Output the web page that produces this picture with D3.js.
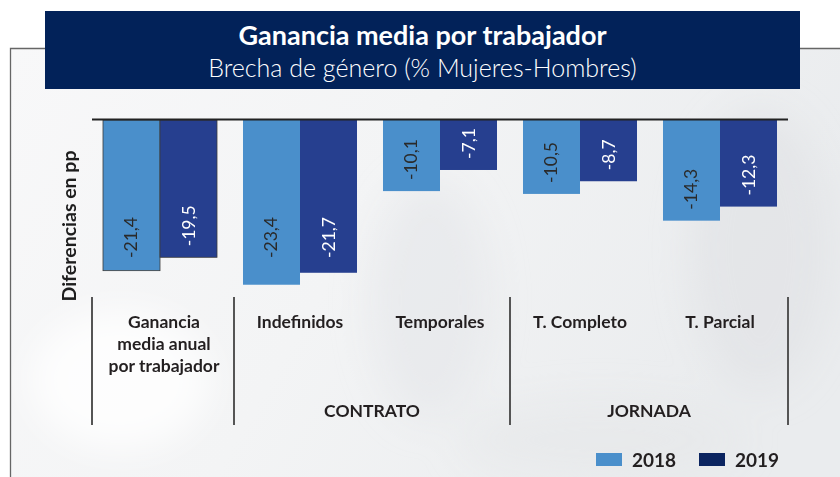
<!DOCTYPE html>
<html>
<head>
<meta charset="utf-8">
<style>
  body { margin: 0; background: #fff; }
  svg { display: block; }
  text { font-family: Lato, "Open Sans", sans-serif; }
</style>
</head>
<body>
<svg class="chart"></svg>

<script src="https://cdn.jsdelivr.net/npm/d3@7"></script>
<script>
// datos: brecha de género en ganancia media (% mujeres-hombres)
const categories = ["Ganancia media anual por trabajador", "Indefinidos", "Temporales", "T. Completo", "T. Parcial"];
const catLines = [["Ganancia", "media anual", "por trabajador"], ["Indefinidos"], ["Temporales"], ["T. Completo"], ["T. Parcial"]];
const years = ["2018", "2019"];
const values2018 = [-21.4, -23.4, -10.1, -10.5, -14.3];
const values2019 = [-19.5, -21.7, -7.1, -8.7, -12.3];
const groups = [
  {name: "", from: 0, to: 0},
  {name: "CONTRATO", from: 1, to: 2},
  {name: "JORNADA", from: 3, to: 4}
];
const yDomain = [-25, 0];

const width = 840, height = 477;
const margin = {top: 120, left: 90, right: 50, bottom: 181};

const color = {"2018": "#4a8fcb", "2019": "#263f8f"};
const legendColor = {"2018": "#4a8fcb", "2019": "#0b2460"};

const data = categories.map((c, i) => ({
  cat: c, i,
  vals: [{year: "2018", value: values2018[i]}, {year: "2019", value: values2019[i]}]
}));

const fmt = v => d3.format(".1f")(v).replace(".", ",").replace("\u2212", "-");

const x0 = d3.scaleBand()
    .domain(categories)
    .range([margin.left, width - margin.right])
    .paddingInner(0);

const x1 = d3.scaleBand()
    .domain(years)
    .range([0, x0.bandwidth()])
    .paddingInner(0)
    .paddingOuter(0.228);

const y = d3.scaleLinear()
    .domain(yDomain)
    .range([height - margin.bottom, margin.top]);

const svg = d3.select("svg")
    .attr("width", width)
    .attr("height", height)
    .attr("viewBox", [0, 0, width, height]);

// fondo (foto difuminada)
const defs = svg.append("defs");
const bg = defs.append("linearGradient").attr("id", "bg").attr("x1", 0).attr("x2", 1).attr("y1", 0).attr("y2", 0.3);
bg.append("stop").attr("offset", 0).attr("stop-color", "#f8f8f9");
bg.append("stop").attr("offset", 0.5).attr("stop-color", "#f3f4f5");
bg.append("stop").attr("offset", 1).attr("stop-color", "#eaecee");
const blur = defs.append("filter").attr("id", "blur").attr("x", -0.5).attr("y", -0.5).attr("width", 2).attr("height", 2);
blur.append("feGaussianBlur").attr("stdDeviation", 18);

svg.append("rect")
    .attr("x", 10).attr("y", 48)
    .attr("width", width - 10).attr("height", height - 48)
    .attr("fill", "url(#bg)");

const blobs = svg.append("g").attr("filter", "url(#blur)");
blobs.append("ellipse").attr("cx", 120).attr("cy", 380).attr("rx", 90).attr("ry", 70).attr("fill", "#ffffff").attr("opacity", 0.8);
blobs.append("ellipse").attr("cx", 430).attr("cy", 300).attr("rx", 60).attr("ry", 120).attr("fill", "#e4e6e9").attr("opacity", 0.6);
blobs.append("ellipse").attr("cx", 760).attr("cy", 250).attr("rx", 70).attr("ry", 140).attr("fill", "#e1e3e6").attr("opacity", 0.7);
blobs.append("ellipse").attr("cx", 600).attr("cy", 440).attr("rx", 140).attr("ry", 40).attr("fill", "#e6e8ea").attr("opacity", 0.6);

// marco
svg.append("path")
    .attr("d", `M10.5,${height} V48.5 H45 M800,48.5 H${width}`)
    .attr("fill", "none")
    .attr("stroke", "#666")
    .attr("stroke-width", 1.3);

// caja del título
svg.append("rect")
    .attr("x", 45).attr("y", 11)
    .attr("width", 755).attr("height", 78)
    .attr("fill", "#022259");

svg.append("text")
    .attr("x", 422.5).attr("y", 45)
    .attr("text-anchor", "middle")
    .attr("fill", "#fff")
    .attr("font-weight", 700)
    .attr("font-size", 27)
    .text("Ganancia media por trabajador");

svg.append("text")
    .attr("x", 422.5).attr("y", 77)
    .attr("text-anchor", "middle")
    .attr("fill", "#fff")
    .attr("font-weight", 300)
    .attr("font-size", 25)
    .text("Brecha de género (% Mujeres-Hombres)");

// barras
const g = svg.append("g")
  .selectAll("g")
  .data(data)
  .join("g")
    .attr("transform", d => `translate(${x0(d.cat)},0)`);

g.selectAll("rect")
  .data(d => d.vals.map(v => ({...v, i: d.i})))
  .join("rect")
    .attr("x", d => x1(d.year))
    .attr("y", y(0))
    .attr("width", x1.bandwidth())
    .attr("height", d => y(d.value) - y(0))
    .attr("fill", d => color[d.year])
    .attr("stroke", d => d.i === 0 ? "#3c3c3c" : "none")
    .attr("stroke-width", 0.8);

g.selectAll("text")
  .data(d => d.vals)
  .join("text")
    .attr("transform", d => `translate(${x1(d.year) + x1.bandwidth() / 2 + 6},${Math.min(y(d.value) - 11, y(-19.6))}) rotate(-90)`)
    .attr("fill", d => d.year === "2018" ? "#2a2a2a" : "#fff")
    .attr("font-size", 17.5)
    .attr("font-weight", 400)
    .text(d => fmt(d.value));

// línea del cero
svg.append("line")
    .attr("x1", x0.range()[0] + 2).attr("x2", x0.range()[1] - 2)
    .attr("y1", y(0) - 0.5).attr("y2", y(0) - 0.5)
    .attr("stroke", "#222")
    .attr("stroke-width", 2.2);

// eje vertical
svg.append("text")
    .attr("transform", `translate(76,226) rotate(-90)`)
    .attr("text-anchor", "middle")
    .attr("fill", "#1e1e1e")
    .attr("font-weight", 700)
    .attr("font-size", 19.5)
    .text("Diferencias en pp");

// etiquetas de categoría
const catLabel = svg.append("g")
  .selectAll("text")
  .data(data)
  .join("text")
    .attr("text-anchor", "middle")
    .attr("fill", "#231f20")
    .attr("font-weight", 700)
    .attr("font-size", 17.5)
    .attr("transform", d => `translate(${x0(d.cat) + x0.bandwidth() / 2 + (d.i === 0 ? 4 : 0)},328)`);

catLabel.selectAll("tspan")
  .data(d => catLines[d.i])
  .join("tspan")
    .attr("x", 0)
    .attr("dy", (d, i) => i === 0 ? 0 : 22)
    .text(d => d);

// separadores de grupos
const sepX = [x0(categories[0]) + 2, x0(categories[1]) + 4, x0(categories[3]), x0(categories[4]) + x0.bandwidth() - 2];
svg.append("g")
  .selectAll("line")
  .data(sepX)
  .join("line")
    .attr("x1", d => d).attr("x2", d => d)
    .attr("y1", 297).attr("y2", 425)
    .attr("stroke", "#555")
    .attr("stroke-width", 2);

svg.append("g")
  .selectAll("text")
  .data(groups.filter(d => d.name))
  .join("text")
    .attr("x", (d, i) => (sepX[i + 1] + sepX[i + 2]) / 2)
    .attr("y", 417)
    .attr("text-anchor", "middle")
    .attr("fill", "#231f20")
    .attr("font-weight", 700)
    .attr("font-size", 17.5)
    .text(d => d.name);

// leyenda
const legend = svg.append("g")
  .selectAll("g")
  .data(years)
  .join("g")
    .attr("transform", (d, i) => `translate(${596 + i * 103},453)`);

legend.append("rect")
    .attr("width", 26).attr("height", 13)
    .attr("fill", d => legendColor[d]);

legend.append("text")
    .attr("x", 36).attr("y", 13.5)
    .attr("fill", "#231f20")
    .attr("font-weight", 700)
    .attr("font-size", 19)
    .text(d => d);
</script>
</body>
</html>
